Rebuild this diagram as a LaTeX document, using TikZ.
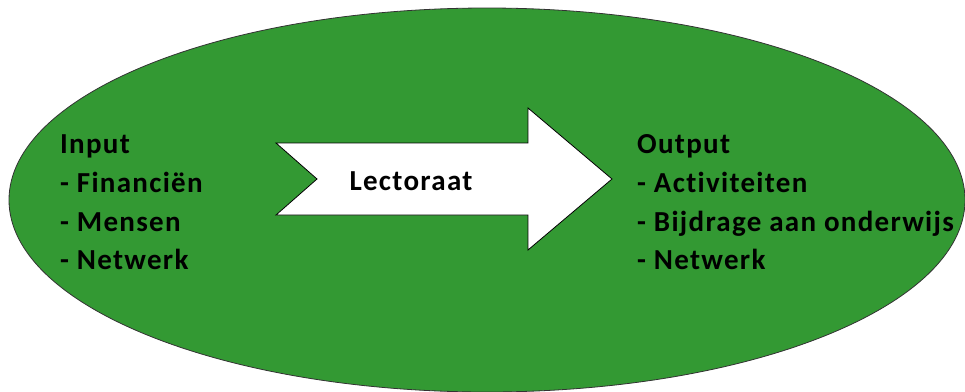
\documentclass[tikz,border=0pt]{standalone}
\usepackage{fontspec}
\setmainfont{Carlito}[LetterSpace=4.5,Ligatures=NoCommon]
\definecolor{lectgreen}{RGB}{51,153,51}
\begin{document}
\begin{tikzpicture}[x=1pt,y=-1pt,
    every node/.style={font=\fontsize{29}{34}\selectfont\bfseries,inner sep=0pt,anchor=base west}]
  \useasboundingbox (0,0) rectangle (965,391);
  \clip (0,0) rectangle (965,391);
  \draw[fill=lectgreen,draw=black!80,line width=0.8pt] (487,200) ellipse [x radius=478,y radius=192];
  \draw[fill=white,draw=black,line width=0.8pt]
    (276,143) -- (528,143) -- (528,108) -- (612,179) -- (528,250) -- (528,215)
    -- (276,215) -- (317,179) -- cycle;
  \node[anchor=base] (lectoraat) at (411,190) {Lectoraat};
  % input
  \node (in0) at (60,153) {Input};
  \node (in1) at (60,192) {- Financiën};
  \node (in2) at (60,231) {- Mensen};
  \node (in3) at (60,269) {- Netwerk};
  % output
  \node (out0) at (637,153) {Output};
  \node (out1) at (637,192) {- Activiteiten};
  \node (out2) at (637,231) {- Bijdrage aan onderwijs};
  \node (out3) at (637,269) {- Netwerk};
\end{tikzpicture}
\end{document}
